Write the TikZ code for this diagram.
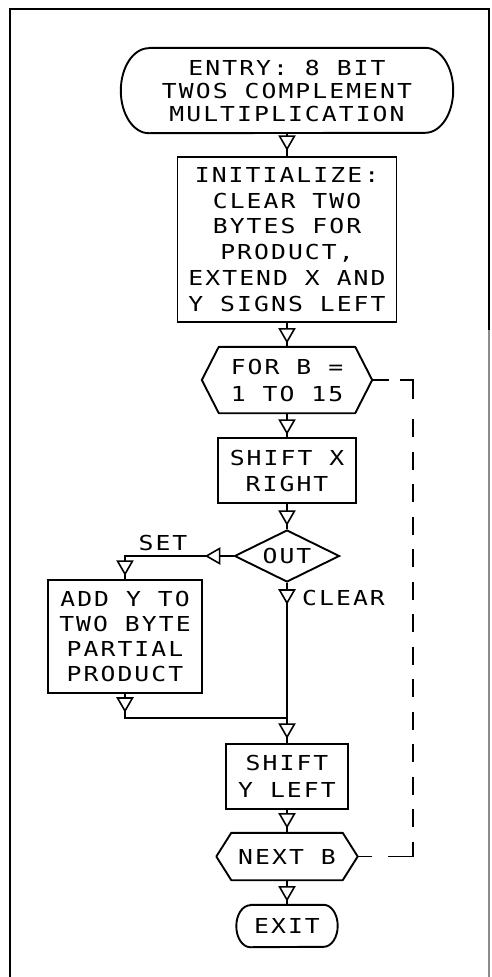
\documentclass[tikz,border=0pt]{standalone}
\usepackage{fontspec}
\newfontfamily\plotfont{DejaVu Sans Mono}[FakeStretch=1.2, LetterSpace=10]
\usetikzlibrary{shapes.geometric,decorations.markings}
\newcommand\tripic{\draw[fill=white,line width=1.6pt,line join=miter] (0pt,0pt) -- (-13pt,7.5pt) -- (-13pt,-7.5pt) -- cycle;}
\tikzset{
  txt/.style={font=\plotfont\fontsize{20.6pt}{25pt}\selectfont, align=center, inner sep=0pt},
  proc/.style={txt, draw, rectangle, line width=1.9pt},
  ghost/.style={txt, rectangle},
  decision/.style={txt, draw, diamond, aspect=2, line width=1.9pt},
  outline/.style={line width=1.9pt, line join=round},
  flow/.style={line width=1.9pt},
  tri/.style={postaction={decorate}, decoration={markings, mark=at position #1 with {\tripic}}},
  tritwo/.style 2 args={postaction={decorate}, decoration={markings, mark=at position #1 with {\tripic}, mark=at position #2 with {\tripic}}},
  loopline/.style={line width=1.9pt, dash pattern=on 17pt off 11pt on 32pt off 20pt
     on 18pt off 14.5pt on 18pt off 14.5pt on 18pt off 14.5pt on 18pt off 14.5pt
     on 18pt off 14.5pt on 18pt off 14.5pt on 18pt off 14.5pt on 18pt off 14.5pt
     on 18pt off 14.5pt on 18pt off 14.5pt on 18pt off 14.5pt on 18pt off 14.5pt
     on 18pt off 14.5pt on 40pt off 15.5pt on 25pt off 5pt},
  frame/.style={line width=1.6pt}
}
\begin{document}
\begin{tikzpicture}[x=1pt,y=-1pt]
\useasboundingbox (0,0) rectangle (491,977);
% frame
\draw[frame] (10,977) -- (10,9) -- (489,9) -- (489,330);
\draw[frame, black!45] (489,330) -- (489,977);

% nodes
\node[ghost, minimum width=276pt, minimum height=85pt, font=\plotfont\fontsize{20.6pt}{23pt}\selectfont] (entry) at (287,90.5)
  {ENTRY: 8 BIT\\TWOS COMPLEMENT\\MULTIPLICATION};
\draw[outline] (entry.north west) -- (entry.north east)
  arc[start angle=90, end angle=-90, x radius=28pt, y radius=42.5pt]
  -- (entry.south west)
  arc[start angle=270, end angle=90, x radius=28pt, y radius=42.5pt] -- cycle;

\node[proc, minimum width=219pt, minimum height=165pt, font=\plotfont\fontsize{20.6pt}{25.8pt}\selectfont] (init) at (287,239.5)
  {INITIALIZE:\\CLEAR TWO\\BYTES FOR\\PRODUCT,\\EXTEND X AND\\Y SIGNS LEFT};

\node[ghost, minimum width=136pt, minimum height=66pt, font=\plotfont\fontsize{20.6pt}{27pt}\selectfont] (for) at (287,380) {FOR B =\\1 TO 15};
\coordinate (forR) at ([xshift=17pt]for.east);
\coordinate (forL) at ([xshift=-17pt]for.west);
\draw[outline] (for.north west) -- (for.north east) -- (forR) -- (for.south east)
  -- (for.south west) -- (forL) -- cycle;

\node[proc, minimum width=138pt, minimum height=65pt, font=\plotfont\fontsize{20.6pt}{26pt}\selectfont] (shiftx) at (287,470.5) {SHIFT X\\RIGHT};

\node[decision, minimum width=105pt, minimum height=52pt] (out) at (287,556) {OUT};

\node[proc, minimum width=154pt, minimum height=113pt] (add) at (125,636.5)
  {ADD Y TO\\TWO BYTE\\PARTIAL\\PRODUCT};

\node[proc, minimum width=122pt, minimum height=65pt, font=\plotfont\fontsize{20.6pt}{27pt}\selectfont] (shifty) at (287,776.5) {SHIFT\\Y LEFT};

\node[ghost, minimum width=111pt, minimum height=47pt] (next) at (287,856.5) {NEXT B};
\coordinate (nextR) at ([xshift=15pt]next.east);
\coordinate (nextL) at ([xshift=-15pt]next.west);
\draw[outline] (next.north west) -- (next.north east) -- (nextR) -- (next.south east)
  -- (next.south west) -- (nextL) -- cycle;

\node[ghost, minimum width=73pt, minimum height=42pt] (exit) at (287,926) {EXIT};
\draw[outline] (exit.north west) -- (exit.north east)
  arc[start angle=90, end angle=-90, x radius=14pt, y radius=21pt]
  -- (exit.south west)
  arc[start angle=270, end angle=90, x radius=14pt, y radius=21pt] -- cycle;

% labels
\node[txt] (setlbl) at (163,543) {SET};
\node[txt, anchor=west] (clearlbl) at (302,598) {CLEAR};

% coordinates
\coordinate (setc) at (125,556);
\coordinate (addc) at (125,718);
\coordinate (merge) at (287,718);
\coordinate (loopc) at (413,380);

% connectors
\draw[flow, tri=-7pt] (entry.south) -- (init.north);
\draw[flow, tri=-5pt] (init.south) -- (for.north);
\draw[flow, tri=-4pt] (for.south) -- (shiftx.north);
\draw[flow, tri=-5pt] (shiftx.south) -- (out.north);
\draw[flow, tritwo={27pt}{-5pt}] (out.west) -- (setc) -- (add.north);
\draw[flow, tritwo={20pt}{-6pt}] (out.south) -- (shifty.north);
\draw[flow, tri=17pt] (add.south) -- (addc) -- (merge);
\draw[flow, tri=-6pt] (shifty.south) -- (next.north);
\draw[flow, tri=-5pt] (next.south) -- (exit.north);
\draw[loopline] (forR) -- (loopc) |- (nextR);
\end{tikzpicture}
\end{document}
